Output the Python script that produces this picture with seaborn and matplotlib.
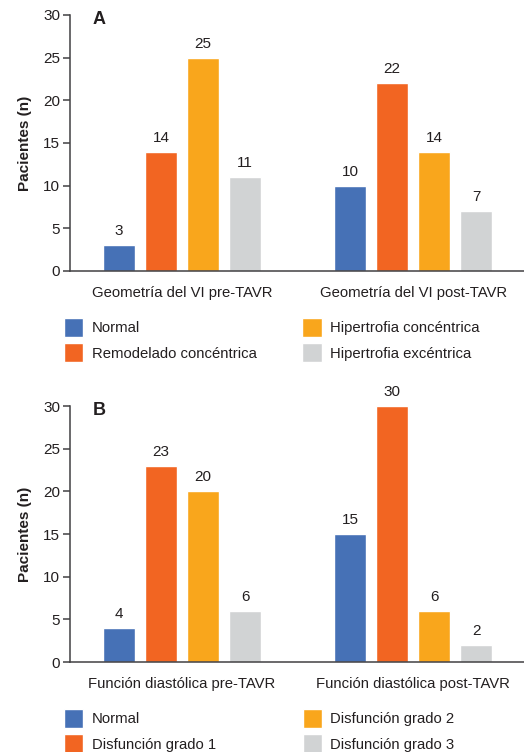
import matplotlib
matplotlib.use("Agg")
import matplotlib.pyplot as plt
import seaborn as sns
import pandas as pd

# Data
momentos_a = ["Geometría del VI pre-TAVR", "Geometría del VI post-TAVR"]
grupos_a = ["Normal", "Remodelado concéntrica", "Hipertrofia concéntrica", "Hipertrofia excéntrica"]
valores_a_pre = [3, 14, 25, 11]
valores_a_post = [10, 22, 14, 7]

momentos_b = ["Función diastólica pre-TAVR", "Función diastólica post-TAVR"]
grupos_b = ["Normal", "Disfunción grado 1", "Disfunción grado 2", "Disfunción grado 3"]
valores_b_pre = [4, 23, 20, 6]
valores_b_post = [15, 30, 6, 2]

colores = ["#4671B6", "#F26522", "#F9A61C", "#D1D3D4"]
y_ticks = [0, 5, 10, 15, 20, 25, 30]

TXT = "#231F20"
AX = "#414042"
FS = 10.7
FS_NUM = 11

sns.set_theme(style="white")
plt.rcParams["font.family"] = ["Liberation Sans", "DejaVu Sans"]
plt.rcParams["text.color"] = TXT


def long_table(momentos, grupos, pre, post):
    filas = []
    for momento, vals in zip(momentos, [pre, post]):
        for g, v in zip(grupos, vals):
            filas.append({"momento": momento, "grupo": g, "n": v})
    return pd.DataFrame(filas)


fig = plt.figure(figsize=(5.24, 7.52), dpi=100)
W, H = 524, 752


def panel(rect_px, df, momentos, grupos, letra, colspacing):
    x0, top, x1, bottom = rect_px
    ax = fig.add_axes([x0 / W, 1 - bottom / H, (x1 - x0) / W, (bottom - top) / H])
    sns.barplot(data=df, x="momento", y="n", hue="grupo", order=momentos,
                hue_order=grupos, palette=colores, width=0.727, gap=0.24,
                saturation=1, ax=ax, errorbar=None)
    for cont in ax.containers:
        ax.bar_label(cont, fmt="%d", padding=5, fontsize=FS_NUM, color=TXT)
    ax.set_ylim(0, 30)
    ax.set_xlim(-0.485, 1.48)
    ax.set_yticks(y_ticks)
    ax.set_xlabel("")
    ax.set_ylabel("Pacientes (n)", fontsize=11, fontweight="bold", color=TXT, labelpad=8)
    ax.tick_params(axis="y", length=5, width=1.1, color=AX, labelsize=FS_NUM,
                   labelcolor=TXT, pad=2, left=True)
    ax.tick_params(axis="x", length=0, labelsize=FS, labelcolor=TXT, pad=10.5)
    sns.despine(ax=ax)
    for s in ("left", "bottom"):
        ax.spines[s].set_color(AX)
        ax.spines[s].set_linewidth(1.1)
    ax.text(0.0507, 0.965, letra, transform=ax.transAxes, fontsize=13,
            fontweight="bold", color=TXT, va="baseline", ha="left")
    sns.move_legend(ax, "upper left", bbox_to_anchor=(-0.0132, -0.1836),
                    ncol=2, frameon=False, title=None, fontsize=FS,
                    handlelength=1.3, handleheight=1.61, handletextpad=0.55,
                    labelspacing=0.4, columnspacing=colspacing, borderpad=0,
                    borderaxespad=0)
    for t in ax.get_legend().get_texts():
        t.set_color(TXT)
    return ax


df_a = long_table(momentos_a, grupos_a, valores_a_pre, valores_a_post)
df_b = long_table(momentos_b, grupos_b, valores_b_pre, valores_b_post)

panel((70, 15, 524, 271), df_a, momentos_a, grupos_a, "A", 3.1)
panel((70, 406, 524, 662), df_b, momentos_b, grupos_b, "B", 5.85)

fig.savefig("out.png", dpi=100)
